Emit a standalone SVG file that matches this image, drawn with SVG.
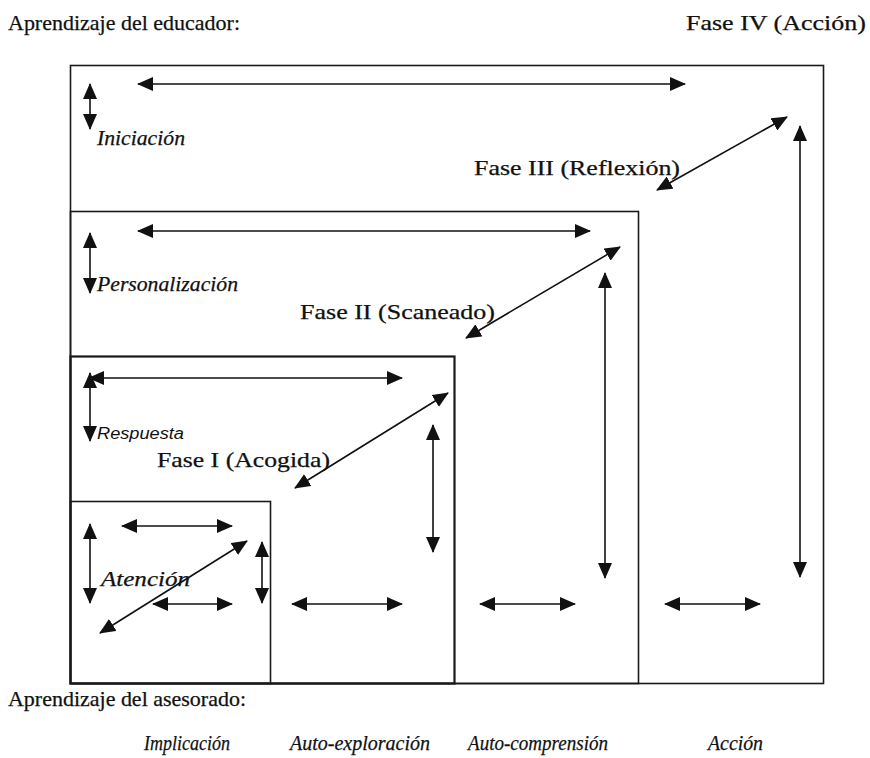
<svg xmlns="http://www.w3.org/2000/svg" width="870" height="758" viewBox="0 0 870 758">
<style>
.box{fill:none;stroke:#1a1a1a;stroke-width:1.6}
.ar{stroke:#111;stroke-width:1.6;fill:none;marker-start:url(#ah);marker-end:url(#ah)}
.t{font-family:"Liberation Serif","Times New Roman",Times,serif;fill:#111;stroke:#111;stroke-width:0.25}
.fase{font-size:21px}
.it{font-style:italic;font-size:20px}
.bot{font-style:italic;font-size:22px}
.sans{font-family:"Liberation Sans",Arial,sans-serif;font-style:italic;font-size:16px;fill:#111}
.lab{font-size:21px}
</style>
<defs>
<marker id="ah" markerUnits="userSpaceOnUse" markerWidth="16" markerHeight="14" refX="15" refY="7" orient="auto-start-reverse" viewBox="0 0 16 14">
<path d="M0,0 L16,7 L0,14 Z" fill="#111"/>
</marker>
</defs>
<rect width="870" height="758" fill="#fff"/>
<text class="t lab" x="8" y="30" textLength="232" lengthAdjust="spacingAndGlyphs">Aprendizaje del educador:</text>
<text class="t lab" x="8" y="706" textLength="238" lengthAdjust="spacingAndGlyphs">Aprendizaje del asesorado:</text>
<g id="fase4">
<rect class="box" x="70.5" y="65.5" width="753" height="618"/>
<text class="t fase" x="686" y="30" textLength="180" lengthAdjust="spacingAndGlyphs">Fase IV (Acción)</text>
<text class="t it" x="97" y="145" textLength="88" lengthAdjust="spacingAndGlyphs">Iniciación</text>
<text class="t bot" x="708" y="750" textLength="55" lengthAdjust="spacingAndGlyphs">Acción</text>
</g>
<g id="fase3">
<rect class="box" x="70.5" y="211.5" width="568" height="472"/>
<text class="t fase" x="474" y="175" textLength="206" lengthAdjust="spacingAndGlyphs">Fase III (Reflexión)</text>
<text class="t it" x="97" y="291" textLength="141" lengthAdjust="spacingAndGlyphs">Personalización</text>
<text class="t bot" x="468" y="750" textLength="140" lengthAdjust="spacingAndGlyphs">Auto-comprensión</text>
</g>
<g id="fase2">
<rect class="box" x="70.5" y="356.5" width="384" height="327" style="stroke-width:2.2"/>
<text class="t fase" x="300" y="319" textLength="195" lengthAdjust="spacingAndGlyphs">Fase II (Scaneado)</text>
<text class="sans" x="97" y="439" textLength="87" lengthAdjust="spacingAndGlyphs">Respuesta</text>
<text class="t bot" x="290" y="750" textLength="140" lengthAdjust="spacingAndGlyphs">Auto-exploración</text>
</g>
<g id="fase1">
<rect class="box" x="70.5" y="501.5" width="200" height="182"/>
<text class="t fase" x="157" y="467" textLength="173" lengthAdjust="spacingAndGlyphs">Fase I (Acogida)</text>
<text class="t it" x="101" y="586" textLength="89" lengthAdjust="spacingAndGlyphs" style="font-size:21px">Atención</text>
<text class="t bot" x="144" y="750" textLength="86" lengthAdjust="spacingAndGlyphs">Implicación</text>
</g>
<g id="connectors">
<line class="ar" x1="138" y1="84" x2="685" y2="84"/>
<line class="ar" x1="90" y1="84" x2="90" y2="129"/>
<line class="ar" x1="657" y1="190" x2="787" y2="117"/>
<line class="ar" x1="800" y1="126" x2="800" y2="577"/>
<line class="ar" x1="665" y1="604" x2="760" y2="604"/>
<line class="ar" x1="138" y1="231" x2="590" y2="231"/>
<line class="ar" x1="90" y1="233" x2="90" y2="293"/>
<line class="ar" x1="466" y1="338" x2="620" y2="247"/>
<line class="ar" x1="605" y1="273" x2="605" y2="578"/>
<line class="ar" x1="480" y1="604" x2="575" y2="604"/>
<line class="ar" x1="89" y1="378" x2="402" y2="378"/>
<line class="ar" x1="90" y1="373" x2="90" y2="441"/>
<line class="ar" x1="295" y1="488" x2="448" y2="393"/>
<line class="ar" x1="433" y1="425" x2="433" y2="552"/>
<line class="ar" x1="292" y1="604" x2="402" y2="604"/>
<line class="ar" x1="122" y1="526" x2="232" y2="526"/>
<line class="ar" x1="90" y1="524" x2="90" y2="603"/>
<line class="ar" x1="100" y1="633" x2="247" y2="541"/>
<line class="ar" x1="262" y1="542" x2="262" y2="603"/>
<line class="ar" x1="153" y1="604" x2="232" y2="604"/>
</g>
</svg>
